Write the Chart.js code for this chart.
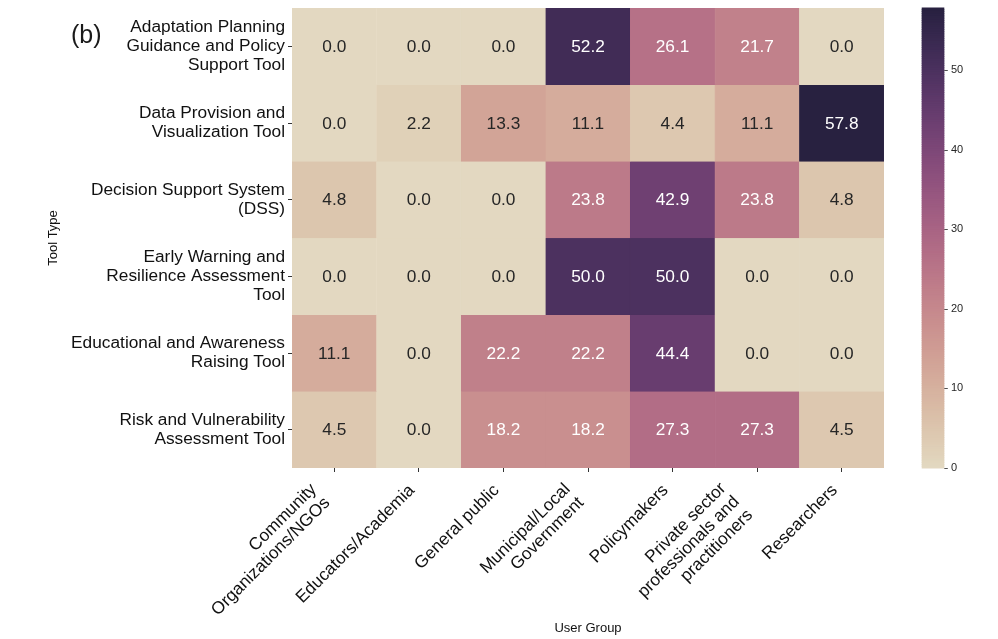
<!DOCTYPE html>
<html>
<head>
<meta charset="utf-8">
<script src="https://cdn.jsdelivr.net/npm/chart.js@4.4.1/dist/chart.umd.min.js"></script>
<style>
  html, body { margin: 0; padding: 0; background: #ffffff; }
  #wrap { position: relative; width: 998px; height: 639px; }
</style>
</head>
<body>
<div id="wrap"><canvas id="c"></canvas></div>
<script>
// ---- data ----
const toolTypes = [
  ["Adaptation Planning", "Guidance and Policy", "Support Tool"],
  ["Data Provision and", "Visualization Tool"],
  ["Decision Support System", "(DSS)"],
  ["Early Warning and", "Resilience Assessment", "Tool"],
  ["Educational and Awareness", "Raising Tool"],
  ["Risk and Vulnerability", "Assessment Tool"]
];
const userGroups = [
  ["Community", "Organizations/NGOs"],
  "Educators/Academia",
  "General public",
  ["Municipal/Local", "Government"],
  "Policymakers",
  ["Private sector", "professionals and", "practitioners"],
  "Researchers"
];
const rowAdaptation = [0.0, 0.0, 0.0, 52.2, 26.1, 21.7, 0.0];
const rowData       = [0.0, 2.2, 13.3, 11.1, 4.4, 11.1, 57.8];
const rowDSS        = [4.8, 0.0, 0.0, 23.8, 42.9, 23.8, 4.8];
const rowEarly      = [0.0, 0.0, 0.0, 50.0, 50.0, 0.0, 0.0];
const rowEdu        = [11.1, 0.0, 22.2, 22.2, 44.4, 0.0, 0.0];
const rowRisk       = [4.5, 0.0, 18.2, 18.2, 27.3, 27.3, 4.5];
const colorbarTicks = [0, 10, 20, 30, 40, 50];

const rows = [rowAdaptation, rowData, rowDSS, rowEarly, rowEdu, rowRisk];
const vmax = Math.max(...rows.flat());

// ---- seaborn cubehelix colormap (start=-0.2, rot=0.6, light=.85, dark=.15) ----
function cubehelix(x) {
  const start = -0.2, rot = 0.6, gamma = 1.0, hue = 0.8;
  const xg = Math.pow(x, gamma);
  const a = hue * xg * (1 - xg) / 2;
  const phi = 2 * Math.PI * (start / 3 + rot * x);
  const f = (p0, p1) => Math.min(1, Math.max(0, xg + a * (p0 * Math.cos(phi) + p1 * Math.sin(phi))));
  return [f(-0.14861, 1.78277), f(-0.29227, -0.90649), f(1.97294, 0.0)];
}
function cmapRGB(v) {
  let t = v / vmax; t = Math.min(1, Math.max(0, t));
  let idx = Math.min(255, Math.floor(t * 256));
  const x = 0.85 - (idx / 255) * 0.7;
  return cubehelix(x);
}
function cmap(v) {
  const c = cmapRGB(v);
  return 'rgb(' + c.map(u => Math.round(u * 255)).join(',') + ')';
}
function textColor(v) {
  const c = cmapRGB(v).map(u => u <= 0.03928 ? u / 12.92 : Math.pow((u + 0.055) / 1.055, 2.4));
  const lum = 0.2126 * c[0] + 0.7152 * c[1] + 0.0722 * c[2];
  return lum > 0.408 ? '#262626' : '#ffffff';
}

const FONT = "'Liberation Sans', Arial, sans-serif";

const datasets = rows.map((vals, r) => ({
  label: toolTypes[r].join(' '),
  data: vals.map(() => [r, r + 1]),
  backgroundColor: vals.map(cmap),
  borderColor: vals.map(cmap),
  borderWidth: 0.6,
  borderSkipped: false,
  barPercentage: 1.0,
  categoryPercentage: 1.0,
  grouped: false
}));

const annotatePlugin = {
  id: 'annotate',
  afterDatasetsDraw(chart) {
    const ctx = chart.ctx;
    ctx.save();
    ctx.font = '17.3px ' + FONT;
    ctx.textAlign = 'center';
    ctx.textBaseline = 'middle';
    rows.forEach((vals, r) => {
      const meta = chart.getDatasetMeta(r);
      meta.data.forEach((el, j) => {
        const v = vals[j];
        ctx.fillStyle = textColor(v);
        ctx.fillText(v.toFixed(1), el.x, (el.y + el.base) / 2 + 1);
      });
    });
    ctx.restore();
  }
};

// matplotlib-like alignment of rotated multi-line tick labels (block right edge at the tick)
const multilineAlignPlugin = {
  id: 'multilineAlign',
  beforeDraw(chart) {
    const items = chart.scales.x.getLabelItems();
    items.forEach(it => {
      if (it._shifted) return;
      const n = Array.isArray(it.label) ? it.label.length : 1;
      it.options.translation[0] -= (n - 1) * 13.5;
      it.options.translation[1] -= (n - 1) * 1;
      it._shifted = true;
    });
  }
};

const colorbarPlugin = {
  id: 'colorbar',
  afterDraw(chart) {
    const ctx = chart.ctx;
    const sc = chart.scales.cb;
    const ca = chart.chartArea;
    const x0 = ca.right + 37.7, w = 22.6;
    ctx.save();
    const n = 256;
    for (let i = 0; i < n; i++) {
      const v0 = vmax * i / n, v1 = vmax * (i + 1) / n;
      const y0 = sc.getPixelForValue(v0), y1 = sc.getPixelForValue(v1);
      ctx.fillStyle = cmap((v0 + v1) / 2);
      ctx.fillRect(x0, y1 - 0.5, w, (y0 - y1) + 1);
    }
    ctx.strokeStyle = '#262626';
    ctx.lineWidth = 0.8;
    sc.ticks.forEach(t => {
      const y = Math.round(sc.getPixelForValue(t.value)) + 0.5;
      ctx.beginPath();
      ctx.moveTo(x0 + w, y);
      ctx.lineTo(x0 + w + 3.5, y);
      ctx.stroke();
    });
    // panel letter
    ctx.fillStyle = '#1a1a1a';
    ctx.font = '25px ' + FONT;
    ctx.textAlign = 'left';
    ctx.textBaseline = 'middle';
    ctx.fillText('(b)', 71, 36);
    ctx.restore();
  }
};

function zeroPad(s) { s.paddingTop = 0; s.paddingBottom = 0; s.paddingLeft = 0; s.paddingRight = 0; }

new Chart(document.getElementById('c'), {
  type: 'bar',
  data: { labels: userGroups, datasets },
  plugins: [annotatePlugin, multilineAlignPlugin, colorbarPlugin],
  options: {
    responsive: true,
    maintainAspectRatio: false,
    animation: false,
    devicePixelRatio: 1,
    layout: { padding: { top: 8, left: 0, right: 0, bottom: 0 } },
    plugins: { legend: { display: false }, tooltip: { enabled: false } },
    scales: {
      x: {
        type: 'category',
        offset: true,
        grid: { display: true, drawOnChartArea: false, drawTicks: true, tickLength: 4, offset: false, color: '#333' },
        border: { display: false },
        ticks: {
          autoSkip: false, minRotation: 45, maxRotation: 45, padding: 9, labelOffset: -7,
          color: '#111', font: { family: FONT, size: 17.3, lineHeight: 1.1 }
        },
        title: { display: true, text: 'User Group', color: '#111', font: { family: FONT, size: 13 }, padding: { top: 0, bottom: 3 } },
        afterFit(s) { s.height = 171; zeroPad(s); }
      },
      y: {
        type: 'linear',
        min: 0, max: toolTypes.length,
        reverse: true,
        grid: { display: true, drawOnChartArea: false, drawTicks: true, tickLength: 4, color: '#333' },
        border: { display: false },
        afterBuildTicks(s) { s.ticks = toolTypes.map((_, i) => ({ value: i + 0.5 })); },
        ticks: {
          padding: 3,
          color: '#111',
          font: { family: FONT, size: 17.3, lineHeight: 1.1 },
          callback: (v) => toolTypes[Math.floor(v)]
        },
        title: { display: true, text: 'Tool Type', color: '#111', font: { family: FONT, size: 13 }, padding: { top: 46, bottom: 0 } },
        afterFit(s) { s.width = 292; zeroPad(s); }
      },
      cb: {
        type: 'linear',
        position: 'right',
        min: 0, max: vmax,
        grid: { display: false, drawTicks: false },
        border: { display: false },
        afterBuildTicks(s) { s.ticks = colorbarTicks.map(v => ({ value: v })); },
        ticks: { padding: 67, color: '#262626', font: { family: FONT, size: 11 } },
        afterFit(s) { s.width = 114; zeroPad(s); }
      }
    }
  }
});
</script>
</body>
</html>
